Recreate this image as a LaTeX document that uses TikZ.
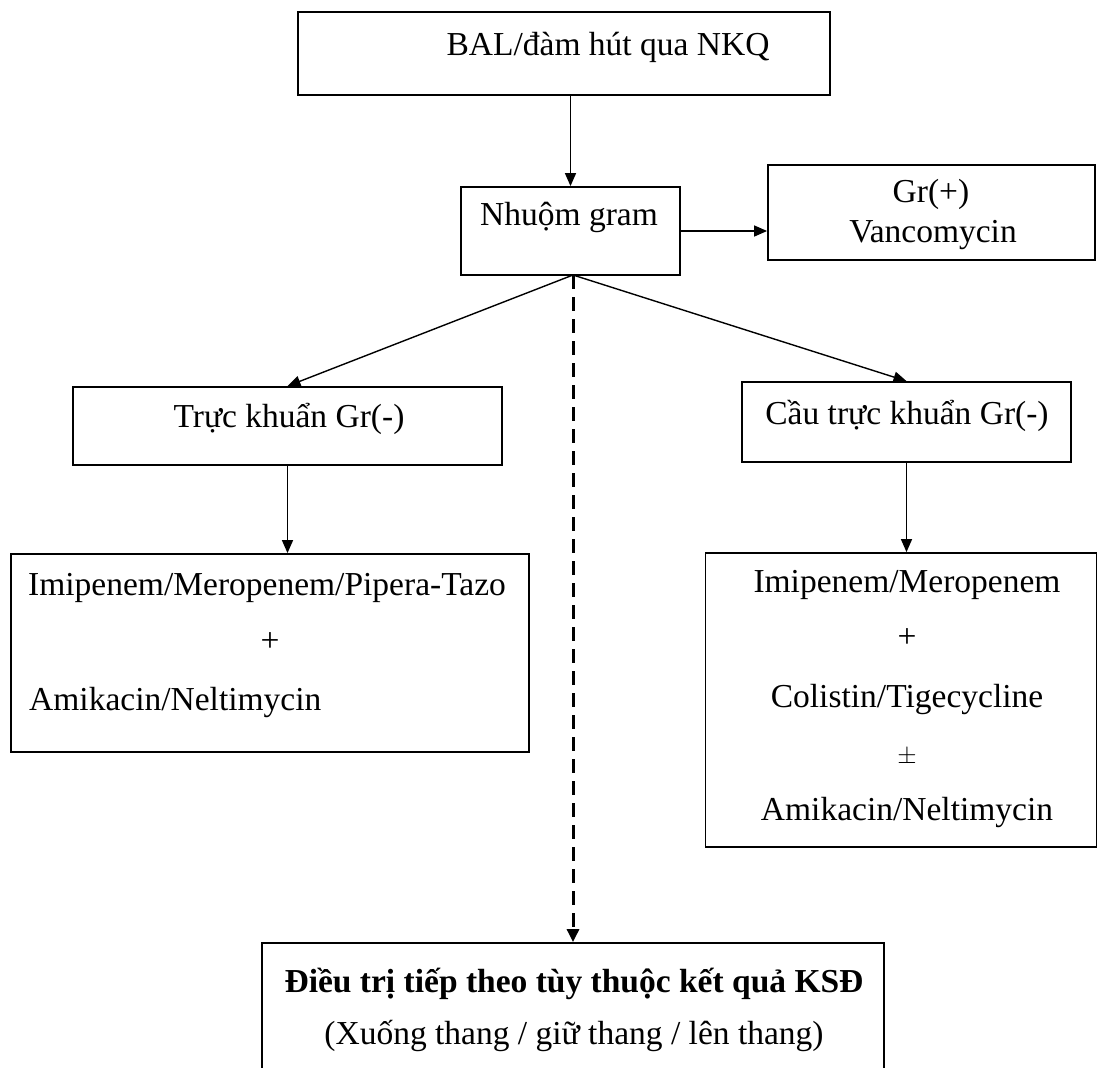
\documentclass[tikz,border=0pt]{standalone}
\usepackage{fontspec}
\setmainfont{Liberation Serif}
\usetikzlibrary{arrows.meta}
\begin{document}
\begin{tikzpicture}[x=1pt,y=-1pt,
  box/.style n args={2}{draw=black,line width=1.8pt,inner sep=0pt,minimum width=#1,minimum height=#2},
  txt/.style={font=\fontsize{33.5pt}{40pt}\selectfont,inner sep=0pt,anchor=mid},
  ltxt/.style={txt,anchor=mid west},
  arr/.style={line width=1.4pt,-{Triangle[length=13pt,width=11pt]}},
  darr/.style={line width=3pt,dash pattern=on 14pt off 8pt,-{Triangle[length=13pt,width=12pt]}}]
\path[fill=white,use as bounding box] (0,0) rectangle (1103,1068);
\clip (0,0) rectangle (1103,1068);
% boxes
\node[box={532pt}{83pt}] (top) at (564,53.5) {};
\node[box={219pt}{88pt}] (nhuom) at (570.5,231) {};
\node[box={327pt}{95pt}] (grp) at (931.5,212.5) {};
\node[box={429pt}{78pt}] (truc) at (287.5,426) {};
\node[box={329pt}{80pt}] (cau) at (906.5,422) {};
\node[box={518pt}{198pt}] (ldrug) at (270,653) {};
\node[box={391pt}{294pt}] (rdrug) at (901,700) {};
\node[box={622pt}{160pt}] (bottom) at (573,1023) {};
% texts
\node[txt] (top-t) at (608,53) {BAL/đàm hút qua NKQ};
\node[txt] (nhuom-t) at (569,223) {Nhuộm gram};
\node[txt] (grp-t1) at (931,200) {Gr(+)};
\node[txt] (grp-t2) at (933,240) {Vancomycin};
\node[txt] (truc-t) at (289,425) {Trực khuẩn Gr(-)};
\node[txt] (cau-t) at (907,422) {Cầu trực khuẩn Gr(-)};
\node[ltxt] (ld-1) at (28,593) {Imipenem/Meropenem/Pipera-Tazo};
\node[txt] (ld-2) at (270,649) {+};
\node[ltxt] (ld-3) at (29,708) {Amikacin/Neltimycin};
\node[txt] (rd-1) at (907,590) {Imipenem/Meropenem};
\node[txt] (rd-2) at (907,645) {+};
\node[txt] (rd-3) at (907,705) {Colistin/Tigecycline};
\node[txt] (rd-4) at (907,761) {$\pm$};
\node[txt] (rd-5) at (907,818) {Amikacin/Neltimycin};
\node[txt,font=\fontsize{33.5pt}{40pt}\selectfont\bfseries] (bot-1) at (574,990) {Điều trị tiếp theo tùy thuộc kết quả KSĐ};
\node[txt] (bot-2) at (574,1042) {(Xuống thang / giữ thang / lên thang)};
% connectors
\coordinate (j) at (573,275);
\draw[arr] (nhuom.north |- top.south) -- (nhuom.north);
\draw[arr] (nhuom.east) -- (nhuom.east -| grp.west);
\draw[arr] (j) -- (truc.north);
\draw[arr] (j) -- (cau.north);
\draw[darr] (j) -- (bottom.north);
\draw[arr] (truc.south) -- (truc.south |- ldrug.north);
\draw[arr] (cau.south) -- (cau.south |- rdrug.north);
\end{tikzpicture}
\end{document}
